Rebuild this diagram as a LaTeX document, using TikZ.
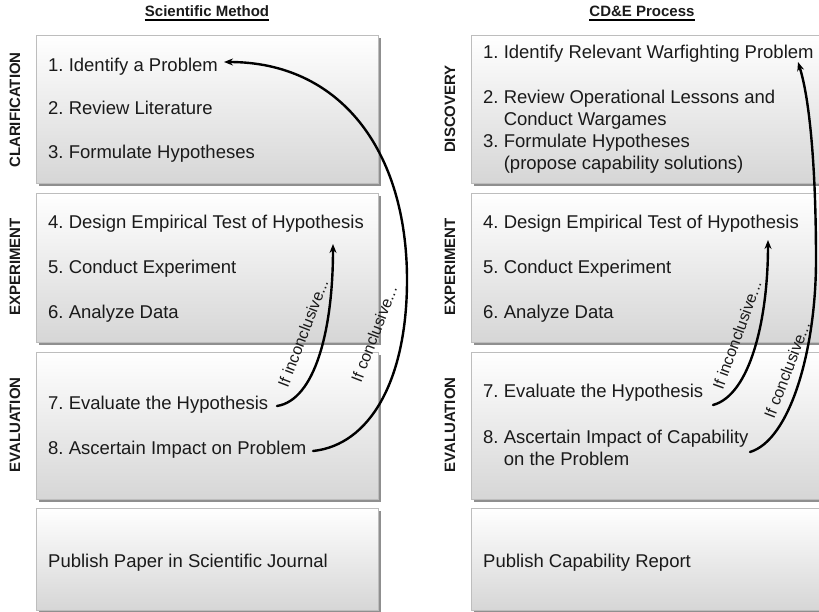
\documentclass[tikz,border=0pt]{standalone}
\usepackage{fontspec}
\setmainfont{Liberation Sans}
\usetikzlibrary{arrows.meta,shadows}
\definecolor{boxbot}{HTML}{D6D6D6}
\definecolor{boxline}{HTML}{BDBDBD}
\definecolor{shadowc}{HTML}{8F8F8F}
\definecolor{txt}{HTML}{1A1A1A}
\frenchspacing
\begin{document}
\begin{tikzpicture}[x=1pt,y=-1pt,
  box/.style={draw=boxline, line width=0.8pt, top color=white, bottom color=boxbot,
    inner sep=0pt, outer sep=0pt,
    drop shadow={shadow xshift=3pt, shadow yshift=-3pt, fill=shadowc, opacity=1}},
  item/.style={anchor=base west, inner sep=0pt, font=\fontsize{18.5}{22}\selectfont\frenchspacing, align=left, text=txt},
  side/.style={rotate=90, font=\fontsize{15}{18}\selectfont\bfseries, inner sep=0pt, text=txt},
  ttl/.style={anchor=base, font=\fontsize{15}{18}\selectfont\bfseries, inner sep=0pt, text=txt},
  flow/.style={line width=2.4pt, -{Stealth[length=9pt,width=7pt]}, line cap=round},
  lbl/.style={font=\fontsize{16}{18}\selectfont, inner sep=0pt, text=txt}
]
\useasboundingbox (0,0) rectangle (819,612);
\clip (0,0) rectangle (819,612);

% titles
\node[ttl] (T1) at (207,17) {Scientific Method};
\node[ttl] (T2) at (642,17) {CD\&E Process};
\draw[line width=1.2pt] ([yshift=-3pt]T1.base west) -- ([yshift=-3pt]T1.base east);
\draw[line width=1.2pt] ([yshift=-3pt]T2.base west) -- ([yshift=-3pt]T2.base east);

% left boxes
\node[box, minimum width=342pt, minimum height=148pt] (LA) at (207,109) {};
\node[box, minimum width=342pt, minimum height=149pt] (LB) at (207,267.5) {};
\node[box, minimum width=342pt, minimum height=147pt] (LC) at (207,425.5) {};
\node[box, minimum width=342pt, minimum height=102pt] (LD) at (207,559) {};
% right boxes
\node[box, minimum width=354pt, minimum height=148pt] (RA) at (648,109) {};
\node[box, minimum width=354pt, minimum height=149pt] (RB) at (648,267.5) {};
\node[box, minimum width=354pt, minimum height=147pt] (RC) at (648,425.5) {};
\node[box, minimum width=354pt, minimum height=102pt] (RD) at (648,559) {};

% side labels
\node[side] (SL1) at (15,110) {CLARIFICATION};
\node[side] (SL2) at (15,267) {EXPERIMENT};
\node[side] (SL3) at (15,425) {EVALUATION};
\node[side] (SR1) at (450,109) {DISCOVERY};
\node[side] (SR2) at (450,267) {EXPERIMENT};
\node[side] (SR3) at (450,425) {EVALUATION};

% left items
\node[item] (L1) at (48,72) {1. Identify a Problem};
\node[item] (L2) at (48,115) {2. Review Literature};
\node[item] (L3) at (48,159) {3. Formulate Hypotheses};
\node[item] (L4) at (48,229) {4. Design Empirical Test of Hypothesis};
\node[item] (L5) at (48,273) {5. Conduct Experiment};
\node[item] (L6) at (48,318) {6. Analyze Data};
\node[item] (L7) at (48,409) {7. Evaluate the Hypothesis};
\node[item] (L8) at (48,454) {8. Ascertain Impact on Problem};
\node[item] (LP) at (48,567) {Publish Paper in Scientific Journal};

% right items (two-line nodes are anchored on their last line)
\node[item] (R1) at (483,59) {1. Identify Relevant Warfighting Problem};
\node[item] (R2) at (483,126) {2. Review Operational Lessons and\\\hspace*{20.6pt}Conduct Wargames};
\node[item] (R3) at (483,170) {3. Formulate Hypotheses\\\hspace*{20.6pt}(propose capability solutions)};
\node[item] (R4) at (483,229) {4. Design Empirical Test of Hypothesis};
\node[item] (R5) at (483,273) {5. Conduct Experiment};
\node[item] (R6) at (483,318) {6. Analyze Data};
\node[item] (R7) at (483,397) {7. Evaluate the Hypothesis};
\node[item] (R8) at (483,465) {8. Ascertain Impact of Capability\\\hspace*{20.6pt}on the Problem};
\node[item] (RP) at (483,567) {Publish Capability Report};

% connector end points
\coordinate (liS) at (277,406);
\coordinate (liE) at (333,244);
\coordinate (lcS) at (313,451);
\coordinate (lcE) at (224,62);
\coordinate (riS) at (713,405);
\coordinate (riE) at (768,240);
\coordinate (rcS) at (750,452);
\coordinate (rcE) at (798,62);

% left arrows
\draw[flow] (liS) .. controls (315,400) and (333,330) .. (liE);
\draw[flow] (lcS) .. controls (370,445) and (407,380) .. (407,280)
                  .. controls (407,150) and (340,62) .. (lcE);
\node[lbl, rotate=69] (LLi) at (303,333) {If inconclusive...};
\node[lbl, rotate=69] (LLc) at (374,334) {If conclusive...};

% right arrows
\draw[flow] (riS) .. controls (750,395) and (768,320) .. (riE);
\draw[flow] (rcS) .. controls (790,440) and (816,350) .. (816,260)
                  .. controls (816,170) and (810,100) .. (rcE);
\node[lbl, rotate=70] (RLi) at (737,335) {If inconclusive...};
\node[lbl, rotate=69] (RLc) at (787,370) {If conclusive...};
\end{tikzpicture}
\end{document}
